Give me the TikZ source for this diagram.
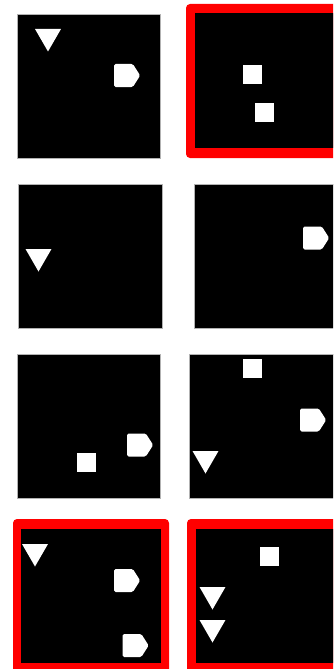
\documentclass[tikz,border=0pt]{standalone}
\usetikzlibrary{shapes.geometric,shapes.symbols}

\begin{document}
\begin{tikzpicture}[x=1pt, y=-1pt,
	panel/.style={fill=black, draw=gray!60, line width=0.4pt},
	redframe/.style={fill=red, rounded corners=4pt},
	tri/.style={regular polygon, regular polygon sides=3, shape border rotate=180, fill=white, minimum size=30pt, inner sep=0pt, outer sep=0pt},
	sq/.style={rectangle, fill=white, minimum size=19pt, inner sep=0pt, outer sep=0pt},
	blob/.style={signal, signal to=east, signal pointer angle=115, fill=white, rounded corners=1.5pt, minimum width=26pt, minimum height=23pt, inner sep=0pt, outer sep=0pt}]
	
	\useasboundingbox (0,0) rectangle (333,669);
	\clip (0,0) rectangle (333,669);
	
	% row 1
	\draw[panel] (17,14) rectangle (160,158);
	\fill[redframe] (186,4) rectangle (350,158);
	\fill[black] (195,13) rectangle (350,148);
	\node[tri] (t11) at (48,36.5) {};
	\node[blob] (b11) at (123.5,75.5) {};
	\node[sq] (s12a) at (252.5,74.5) {};
	\node[sq] (s12b) at (264.5,112.5) {};
	
	% row 2
	\draw[panel] (18,184) rectangle (162,328);
	\draw[panel] (194,184) rectangle (350,328);
	\node[tri] (t21) at (38.5,256.5) {};
	\node[blob] (b22) at (312.5,238) {};
	
	% row 3
	\draw[panel] (17,354) rectangle (160,498);
	\draw[panel] (189,354) rectangle (350,498);
	\node[sq] (s31) at (86.5,462.5) {};
	\node[blob] (b31) at (136.5,445) {};
	\node[sq] (s32) at (252.5,368) {};
	\node[blob] (b32) at (309.5,420) {};
	\node[tri] (t32) at (205.5,458.5) {};
	
	% row 4
	\fill[redframe] (13,519) rectangle (169,680);
	\fill[black] (21,529) rectangle (161,663);
	\fill[redframe] (187,519) rectangle (350,680);
	\fill[black] (196,529) rectangle (350,663);
	\node[tri] (t41) at (35,551.5) {};
	\node[blob] (b41a) at (123.5,580.5) {};
	\node[blob] (b41b) at (132,645.5) {};
	\node[sq] (s42) at (269,556) {};
	\node[tri] (t42a) at (212.5,594.5) {};
	\node[tri] (t42b) at (212.5,627.5) {};
	
\end{tikzpicture}
\end{document}
